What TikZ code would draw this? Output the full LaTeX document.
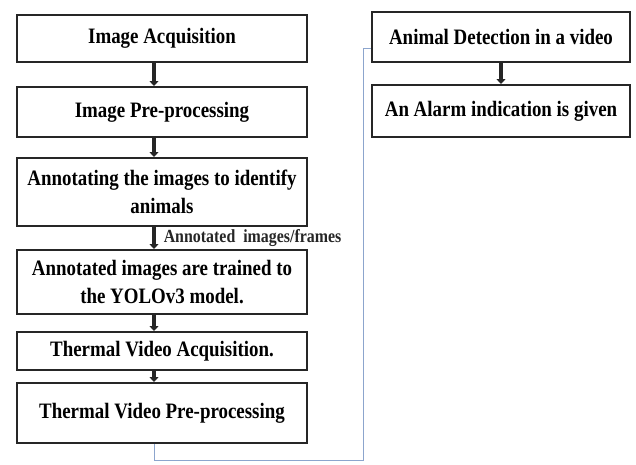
\documentclass[tikz,border=0pt]{standalone}
\usepackage{fontspec}
\setmainfont{Liberation Serif}[FakeStretch=0.86]
\usepackage{tikz}
\usetikzlibrary{arrows.meta}
\usetikzlibrary{positioning}
\usetikzlibrary{calc}

\begin{document}
\begin{tikzpicture}[x=1pt,y=1pt,
  stage/.style={draw=black!85, line width=2pt, minimum width=290pt, align=center,
    font=\bfseries\fontsize{22}{28}\selectfont, inner sep=0pt},
  flow/.style={line width=3.5pt, black!85, -{Triangle[length=5pt,width=9pt]}},
  link/.style={line width=1pt, color={rgb,255:red,140;green,165;blue,205}},
  note/.style={font=\bfseries\fontsize{18.5}{20}\selectfont, inner sep=1pt}]

  \useasboundingbox (0,0) rectangle (636,-464);

  \node[stage, minimum height=47pt] (imgacq) at (162,-38.5) {Image Acquisition};
  \node[stage, minimum height=50pt] (imgpre) at (162,-112) {Image Pre-processing};
  \node[stage, minimum height=68pt] (annot) at (162,-192) {Annotating the images to identify\\animals};
  \node[stage, minimum height=64pt] (train) at (162,-282) {Annotated images are trained to\\the YOLOv3 model.};
  \node[stage, minimum height=38pt] (tvacq) at (162,-351) {Thermal Video Acquisition.};
  \node[stage, minimum height=60pt] (tvpre) at (162,-413) {Thermal Video Pre-processing};

  \node[stage, minimum width=258pt, minimum height=50pt] (detect) at (501,-37) {Animal Detection in a video};
  \node[stage, minimum width=258pt, minimum height=52pt] (alarm) at (501,-111) {An Alarm indication is given};

  \coordinate (ax) at (154,0);
  \coordinate (bend) at (363,-460);

  \draw[flow] (imgacq.south -| ax) -- (imgpre.north -| ax);
  \draw[flow] (imgpre.south -| ax) -- (annot.north -| ax);
  \draw[flow] (annot.south -| ax) -- (train.north -| ax)
    node[note, midway, right=7pt] {Annotated~ images/frames};
  \draw[flow] (train.south -| ax) -- (tvacq.north -| ax);
  \draw[flow] (tvacq.south -| ax) -- (tvpre.north -| ax);
  \draw[flow] (detect.south) -- (alarm.north);

  \draw[link] (tvpre.south -| ax) |- (bend) |- ([yshift=-11pt]detect.west);
\end{tikzpicture}
\end{document}
